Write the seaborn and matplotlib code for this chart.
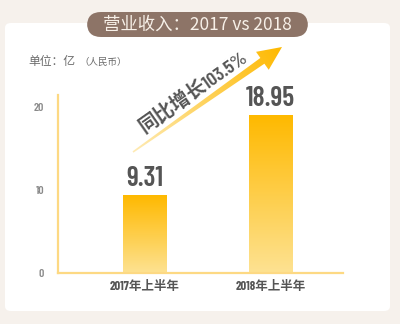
import numpy as np
import pandas as pd
import matplotlib
matplotlib.use("Agg")
import matplotlib.pyplot as plt
import seaborn as sns
from matplotlib.patches import FancyBboxPatch, Polygon
from matplotlib.colors import LinearSegmentedColormap

# ---- data ----
categories = ["2017年上半年", "2018年上半年"]
revenue = [9.31, 18.95]
value_labels = ["9.31", "18.95"]
yticks = [0, 10, 20]
title = "营业收入：2017 vs 2018"
unit_main = "单位：亿"
unit_sub = "（人民币）"
growth_text = "同比增长103.5%"

sns.set_theme(style="white")
plt.rcParams['font.family'] = ['Noto Sans CJK SC', 'DejaVu Sans']
NARROW = ["Barlow Condensed", "Noto Sans CJK SC", "DejaVu Sans"]

W, H = 400, 324
fig = plt.figure(figsize=(W / 100, H / 100), dpi=100)
fig.patch.set_facecolor("#f6f1ec")

def fx(x): return x / W
def fy(y): return 1 - y / H

# white card
card = FancyBboxPatch((fx(5), fy(311)), fx(390) - fx(5), fy(23) - fy(311),
                      boxstyle="round,pad=0,rounding_size=0.015",
                      transform=fig.transFigure, facecolor="white", edgecolor="none", zorder=-5)
fig.patches.append(card)

# title pill
pill = FancyBboxPatch((fx(87), fy(37)), fx(308) - fx(87), fy(12) - fy(37),
                      boxstyle="round,pad=0,rounding_size=0.035",
                      transform=fig.transFigure, facecolor="#8d7467", edgecolor="none",
                      mutation_aspect=W / H, zorder=1)
fig.patches.append(pill)
fig.text(fx(197.5), fy(24.5), title, ha="center", va="center", color="#f7f0e8",
         fontsize=12.5, fontweight="normal", zorder=2)

fig.text(fx(28), fy(62), unit_main, ha="left", va="center", color="#6a6a6a", fontsize=8.5)
fig.text(fx(79), fy(62.5), unit_sub, ha="left", va="center", color="#6a6a6a", fontsize=6.8)

# ---- main axes ----
ax = fig.add_axes([fx(58), fy(272.7), fx(343) - fx(58), fy(95) - fy(272.7)])
ax.set_facecolor("none")
df = pd.DataFrame({"period": categories, "revenue": revenue})
sns.barplot(data=df, x="period", y="revenue", ax=ax, width=0.35, color="#FFB900",
            saturation=1, edgecolor="none")
ax.set_xlabel("")
ax.set_ylabel("")
ax.set_yticks(yticks)
ax.set_yticklabels([str(t) for t in yticks], color="#8a8a8a", fontsize=8.5,
                   fontweight="semibold", family=NARROW)
ax.set_xticks(range(len(categories)))
ax.set_xticklabels(categories, color="#555555", fontsize=9, fontweight="bold", family=NARROW)
ax.tick_params(axis="both", length=0, pad=5)
ax.tick_params(axis="y", pad=10)
for s in ["top", "right"]:
    ax.spines[s].set_visible(False)
for s in ["left", "bottom"]:
    ax.spines[s].set_color("#FDD983")
    ax.spines[s].set_linewidth(1.6)

# gradient bars
cmap = LinearSegmentedColormap.from_list("g", ["#FDE292", "#FFB900"])
grad = np.linspace(0, 1, 256).reshape(-1, 1)
for p, lab in zip(list(ax.patches), value_labels):
    x0, y0 = p.get_x(), p.get_y()
    w, h = p.get_width(), p.get_height()
    im = ax.imshow(grad, extent=[x0, x0 + w, y0, y0 + h], origin="lower", cmap=cmap,
                   aspect="auto", zorder=p.get_zorder() + 0.1)
    im.set_clip_path(p)
    ax.text(x0 + w / 2, y0 + h + 0.55, lab, ha="center", va="bottom", color="#555555",
            fontsize=20, fontweight="semibold", family=NARROW)
ax.set_xlim(-0.693, 1.578)
ax.set_ylim(0, 21.4)

# ---- overlay for arrow ----
ov = fig.add_axes([0, 0, 1, 1])
ov.axis("off")
ov.set_facecolor("none")

start = np.array([133.0, 152.0])
tip = np.array([282.0, 47.0])
d = tip - start
L = np.linalg.norm(d)
u = d / L
n = np.array([u[1], -u[0]])
head_len = 24
base = tip - u * head_len
pts = [start + n * 0.8, base + n * 3.5, base + n * 11, tip,
       base - n * 11, base - n * 3.5, start - n * 0.8]
poly = Polygon(pts, closed=True, facecolor="none", edgecolor="none")
ov.add_patch(poly)
acmap = LinearSegmentedColormap.from_list("a", ["#FEEBB5", "#FFB900"])
X, Y = np.meshgrid(np.linspace(start[0] - 15, tip[0] + 15, 256), np.linspace(30, 170, 256))
proj = ((X - start[0]) * u[0] + (Y - start[1]) * u[1]) / L
aim = ov.imshow(np.clip(proj, 0, 1), extent=[start[0] - 15, tip[0] + 15, 170, 30],
                cmap=acmap, origin="upper", aspect="auto")
aim.set_clip_path(poly)
ov.set_xlim(0, W)
ov.set_ylim(H, 0)

ang = np.degrees(np.arctan2(-d[1], d[0]))
ov.text(193, 91, growth_text, rotation=ang, rotation_mode="anchor", ha="center", va="center",
        color="#555555", fontsize=14, fontweight="semibold", family=NARROW)

fig.savefig("out.png", dpi=100, facecolor=fig.get_facecolor())
